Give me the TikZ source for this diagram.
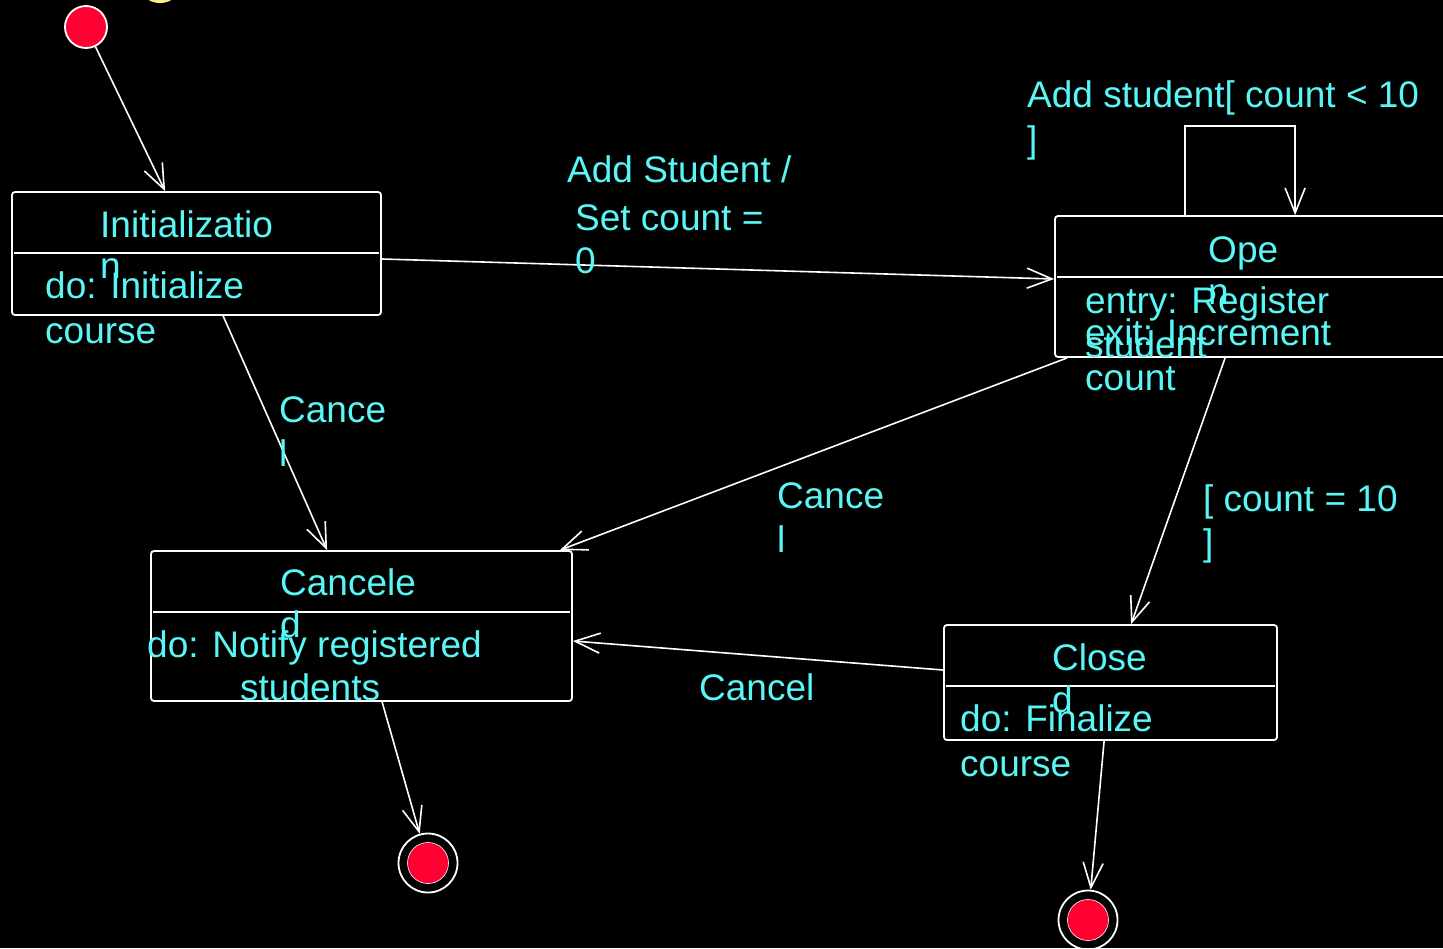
\documentclass[tikz,border=0pt]{standalone}
\usepackage{fontspec}
\setmainfont{Liberation Sans}
\usetikzlibrary{arrows.meta}
\definecolor{lbl}{RGB}{90,245,245}
\definecolor{dotred}{RGB}{255,0,51}
\definecolor{glow}{RGB}{250,235,140}
\begin{document}
\begin{tikzpicture}[x=1pt,y=-1pt,
  txt/.style={anchor=base west,inner sep=0pt,text=lbl,font=\fontsize{37}{44}\selectfont},
  statebox/.style={draw=white,line width=1.8pt,rounded corners=3pt,fill=black,inner sep=0pt},
  divider/.style={draw=white,line width=1.8pt},
  arr/.style={draw=white,line width=1.6pt,-{Straight Barb[length=25pt,width=20pt,line width=1.6pt]}},
  startdot/.style={circle,draw=white,line width=1.8pt,fill=dotred,minimum size=42pt,inner sep=0pt},
  enddot/.style={circle,draw=white,line width=1.8pt,minimum size=59pt,inner sep=0pt}]
\useasboundingbox (0,0) rectangle (1443,948);
\fill[black] (0,0) rectangle (1443,948);
\begin{scope}
\clip (0,0) rectangle (1443,948);
\fill[glow] (160,-6) ellipse (15 and 9);

% states
\node[statebox,minimum width=369pt,minimum height=123pt] (init) at (196.5,253.5) {};
\node[statebox,minimum width=405pt,minimum height=141pt] (open) at (1257.5,286.5) {};
\node[statebox,minimum width=421pt,minimum height=150pt] (canc) at (361.5,626) {};
\node[statebox,minimum width=333pt,minimum height=115pt] (closed) at (1110.5,682.5) {};

\draw[divider] ([xshift=3pt,yshift=-62pt]init.north west) -- ([xshift=-3pt,yshift=-62pt]init.north east);
\draw[divider] ([xshift=3pt,yshift=-62pt]open.north west) -- ([xshift=-3pt,yshift=-62pt]open.north east);
\draw[divider] ([xshift=3pt,yshift=-62pt]canc.north west) -- ([xshift=-3pt,yshift=-62pt]canc.north east);
\draw[divider] ([xshift=3pt,yshift=-62pt]closed.north west) -- ([xshift=-3pt,yshift=-62pt]closed.north east);

% pseudo states
\node[startdot] (ini) at (86,27) {};
\node[enddot] (fin1) at (428,863) {};
\fill[dotred,draw=white,line width=0.6pt] (fin1) circle (20.5);
\node[enddot] (fin2) at (1088,920) {};
\fill[dotred,draw=white,line width=0.6pt] (fin2) circle (20.5);

% transitions
\draw[arr] (ini) -- ([xshift=154pt]init.north west);
\draw[arr] ([yshift=-5.5pt]init.east) -- ([yshift=7.5pt]open.west);
\draw[arr] ([xshift=212pt]init.south west) -- ([xshift=177pt]canc.north west);
\draw[arr] ([xshift=232pt]canc.south west) -- (fin1);
\draw[arr] ([xshift=131pt]open.north west) -- ++(0,-89) -- ++(110,0) -- ([xshift=241pt]open.north west);
\draw[arr] ([xshift=13pt]open.south west) -- ([xshift=-13pt]canc.north east);
\draw[arr] ([xshift=171pt]open.south west) -- ([xshift=188pt]closed.north west);
\draw[arr] ([yshift=12.5pt]closed.west) -- ([yshift=-15pt]canc.east);
\draw[arr] ([xshift=161pt]closed.south west) -- (fin2);

% state texts
\node[txt] (t1a) at (100,237) {Initializatio};
\node[txt] (t1b) at (100,278) {n};
\node[txt] (t1c) at (45,298) {do: Initialize};
\node[txt] (t1d) at (45,343) {course};

\node[txt] (t2a) at (1208,262) {Ope};
\node[txt] (t2b) at (1208,304) {n};
\node[txt] (t2c) at (1085,313) {entry: Register};
\node[txt] (t2d) at (1085,357) {student};
\node[txt] (t2e) at (1085,345) {exit: Increment};
\node[txt] (t2f) at (1085,390) {count};

\node[txt] (t3a) at (280,595) {Cancele};
\node[txt] (t3b) at (280,637) {d};
\node[txt] (t3c) at (147,657) {do: Notify registered};
\node[txt] (t3d) at (240,700) {students};

\node[txt] (t4a) at (1052,670) {Close};
\node[txt] (t4b) at (1052,712) {d};
\node[txt] (t4c) at (960,731) {do: Finalize};
\node[txt] (t4d) at (960,776) {course};

% transition labels
\node[txt] (l1a) at (567,182) {Add Student /};
\node[txt] (l1b) at (575,230) {Set count =};
\node[txt] (l1c) at (575,273) {0};
\node[txt] (l2a) at (1027,107) {Add student[ count < 10};
\node[txt] (l2b) at (1027,152) {]};
\node[txt] (l3a) at (279,422) {Cance};
\node[txt] (l3b) at (279,466) {l};
\node[txt] (l4a) at (777,508) {Cance};
\node[txt] (l4b) at (777,552) {l};
\node[txt] (l5a) at (1203,511) {[ count = 10};
\node[txt] (l5b) at (1203,555) {]};
\node[txt] (l6a) at (699,700) {Cancel};
\end{scope}
\end{tikzpicture}
\end{document}
